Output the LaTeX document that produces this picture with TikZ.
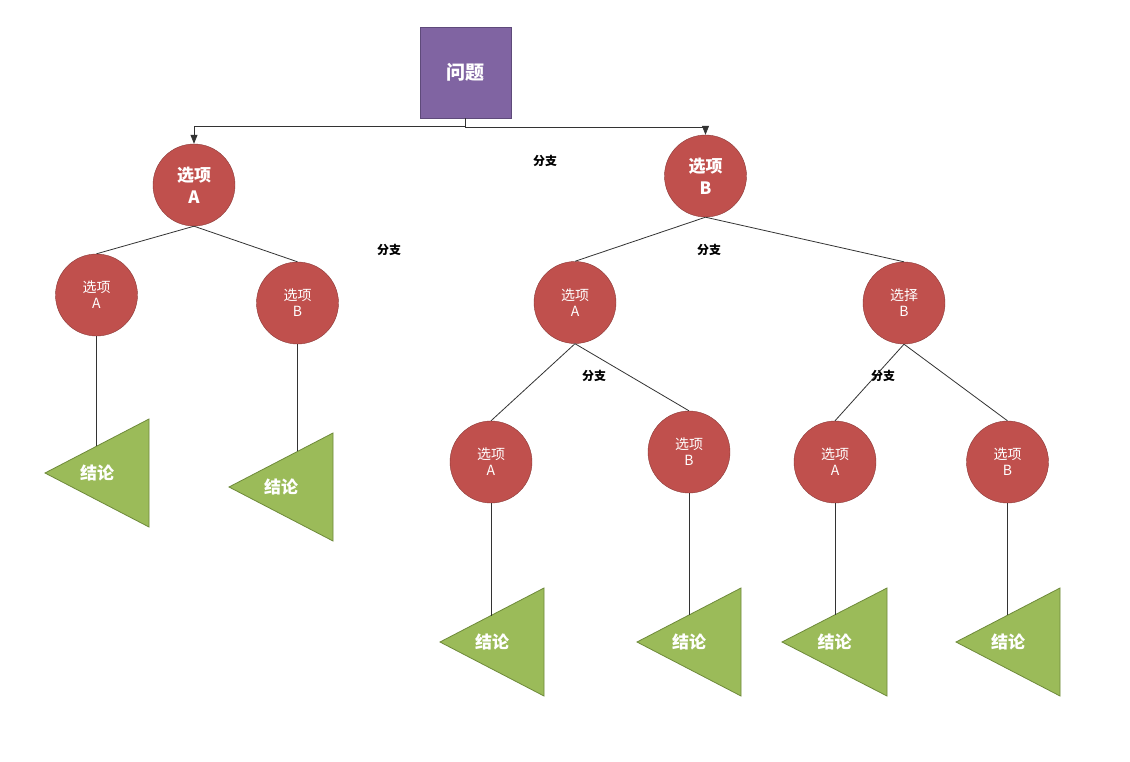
\documentclass[tikz,border=0pt]{standalone}
\usepackage{fontspec}
\setmainfont{Noto Sans CJK SC}
\usetikzlibrary{arrows.meta,calc}
\definecolor{qfill}{HTML}{8064A2}
\definecolor{qline}{HTML}{5E4A7A}
\definecolor{rfill}{HTML}{C0504D}
\definecolor{rline}{HTML}{8C3A38}
\definecolor{gfill}{HTML}{9BBB59}
\definecolor{gline}{HTML}{6E8A3A}
\definecolor{ln}{HTML}{333333}
\begin{document}
\begin{tikzpicture}[x=1pt,y=-1pt,
  qbox/.style={draw=qline,fill=qfill,minimum width=91pt,minimum height=91pt,inner sep=0pt,text=white,font=\fontsize{19}{22}\selectfont\bfseries},
  bigc/.style={circle,draw=rline,fill=rfill,minimum size=82pt,inner sep=0pt,text=white,align=center,font=\fontsize{17}{22}\selectfont\bfseries},
  smc/.style={circle,draw=rline,fill=rfill,minimum size=82pt,inner sep=0pt,text=white,align=center,font=\fontsize{14}{16}\selectfont},
  tri/.style={draw=gline,fill=gfill,line width=0.8pt},
  ttext/.style={text=white,font=\fontsize{17}{20}\selectfont\bfseries},
  lbl/.style={text=black,font=\fontsize{12}{14}\selectfont\bfseries},
  conn/.style={draw=ln,line width=0.8pt},
  arr/.style={conn,-{Triangle[length=9pt,width=7pt]}}]
\useasboundingbox[fill=white] (0,0) rectangle (1130,761);

% top box
\node[qbox] (q) at (465.5,72.5) {问题};

% level 1
\node[bigc] (ba) at (194,185) {选项\\A};
\node[bigc] (bb) at (705.5,176) {选项\\B};

% level 2
\node[smc] (la) at (96.5,295) {选项\\A};
\node[smc] (lb) at (297.5,303) {选项\\B};
\node[smc] (ra) at (575,302.5) {选项\\A};
\node[smc] (rb) at (904,303) {选择\\B};

% level 3
\node[smc] (raa) at (491,462) {选项\\A};
\node[smc] (rab) at (689,452) {选项\\B};
\node[smc] (rba) at (835,462) {选项\\A};
\node[smc] (rbb) at (1007.5,462) {选项\\B};

% triangles (apex left)
\newcommand{\conclusion}[4]{%
  % #1 name, #2 apex x, #3 centre y, #4 right x
  \draw[tri] (#2,#3) -- (#4,#3-54) -- (#4,#3+54) -- cycle;
  \node[ttext] (#1) at ({(#2+#4)/2},#3) {结论};
}
\conclusion{t1}{45}{473}{149}
\conclusion{t2}{229}{487}{333}
\conclusion{t3}{440}{642}{544}
\conclusion{t4}{637}{642}{741}
\conclusion{t5}{782}{642}{887}
\conclusion{t6}{956}{642}{1060}

% points where connectors meet the triangles' upper edges
\coordinate (e1) at (96.5,{473-(96.5-45)*54/104});
\coordinate (e2) at (297.5,{487-(297.5-229)*54/104});
\coordinate (e3) at (491,{642-(491-440)*54/104});
\coordinate (e4) at (689,{642-(689-637)*54/104});
\coordinate (e5) at (835,{642-(835-782)*54/105});
\coordinate (e6) at (1007.5,{642-(1007.5-956)*54/104});

% connectors
\draw[arr] (q.south) -- ++(0,8) -| (ba.north);
\draw[arr] (q.south) -- ++(0,9) -| (bb.north);
\draw[conn] (ba.south) -- (la.north);
\draw[conn] (ba.south) -- (lb.north);
\draw[conn] (bb.south) -- (ra.north);
\draw[conn] (bb.south) -- (rb.north);
\draw[conn] (ra.south) -- (raa.north);
\draw[conn] (ra.south) -- (rab.north);
\draw[conn] (rb.south) -- (rba.north);
\draw[conn] (rb.south) -- (rbb.north);
\draw[conn] (la.south) -- (e1);
\draw[conn] (lb.south) -- (e2);
\draw[conn] (raa.south) -- (e3);
\draw[conn] (rab.south) -- (e4);
\draw[conn] (rba.south) -- (e5);
\draw[conn] (rbb.south) -- (e6);

% labels
\node[lbl] (l1) at (545,161) {分支};
\node[lbl] (l2) at (389,250) {分支};
\node[lbl] (l3) at (709,250) {分支};
\node[lbl] (l4) at (594,376) {分支};
\node[lbl] (l5) at (883,376) {分支};
\end{tikzpicture}
\end{document}
